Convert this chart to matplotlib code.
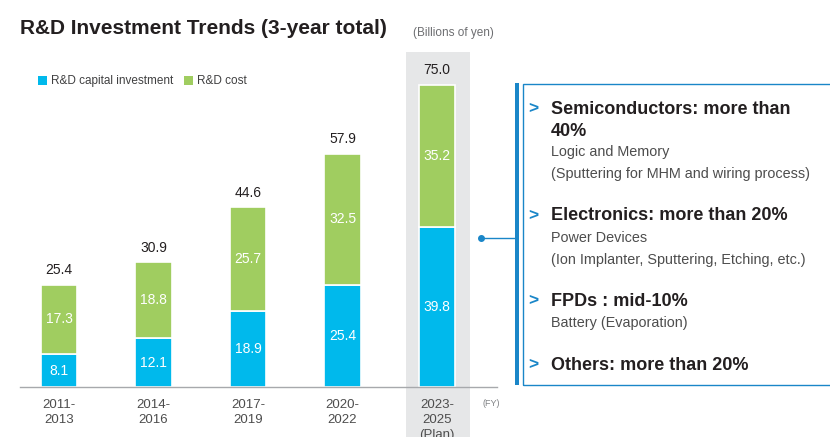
import matplotlib
matplotlib.use("Agg")
import matplotlib.pyplot as plt
from matplotlib.patches import Rectangle
from matplotlib.lines import Line2D

periods = ["2011-\n2013", "2014-\n2016", "2017-\n2019", "2020-\n2022", "2023-\n2025\n(Plan)"]
capital = [8.1, 12.1, 18.9, 25.4, 39.8]
cost = [17.3, 18.8, 25.7, 32.5, 35.2]
totals = [25.4, 30.9, 44.6, 57.9, 75.0]

headings = [["Semiconductors: more than", "40%"], ["Electronics: more than 20%"],
            ["FPDs : mid-10%"], ["Others: more than 20%"]]
details = [["Logic and Memory", "(Sputtering for MHM and wiring process)"],
           ["Power Devices", "(Ion Implanter, Sputtering, Etching, etc.)"],
           ["Battery (Evaporation)"], []]

BLUE = "#00b9ec"
GREEN = "#a0cd60"
DARKBLUE = "#1a86c8"
GREY_BG = "#e6e7e8"
TXT = "#231f20"
SUB = "#4d4d4d"

plt.rcParams['font.family'] = ['Liberation Sans', 'DejaVu Sans']

W, H = 830, 437
fig = plt.figure(figsize=(W / 100, H / 100), dpi=100)
fig.patch.set_facecolor("white")

def fx(px):
    return px / W

def fy(py):
    return 1 - py / H

y_top_val = 85.0
px_per_unit = 4.03
ax_bottom = 387
ax_top = ax_bottom - y_top_val * px_per_unit
ax = fig.add_axes([fx(20), fy(ax_bottom), fx(497 - 20), (ax_bottom - ax_top) / H])
ax.set_xlim(-0.413, 4.635)
ax.set_ylim(0, y_top_val)
ax.axis("off")
ax.patch.set_alpha(0)

x = list(range(len(periods)))
bw = 0.39

ax.add_patch(Rectangle((3.672, -13.0), 0.677, 13.0 + 83.2, facecolor=GREY_BG,
                       edgecolor="none", clip_on=False, zorder=0))

ax.bar(x, capital, width=bw, color=BLUE, edgecolor="white", linewidth=1.2, zorder=2)
ax.bar(x, cost, width=bw, bottom=capital, color=GREEN, edgecolor="white", linewidth=1.2, zorder=2)

ax.plot([-0.413, 4.635], [0, 0], color="#a7a9ac", lw=1.0, clip_on=False, zorder=3)

for i in x:
    ax.text(i, capital[i] / 2, f"{capital[i]:.1f}", ha="center", va="center", color="white", fontsize=10, zorder=4)
    ax.text(i, capital[i] + cost[i] / 2, f"{cost[i]:.1f}", ha="center", va="center", color="white", fontsize=10, zorder=4)
    ax.text(i, totals[i] + 3.6, f"{totals[i]:.1f}", ha="center", va="center", color=TXT, fontsize=10, zorder=4)
    ax.text(i, -3.1, periods[i], ha="center", va="top", color=SUB, fontsize=9.5, linespacing=1.3,
            clip_on=False)

fig.text(fx(482), fy(404), "(FY)", ha="left", va="center", color="#808285", fontsize=6.5)

fig.text(fx(20), fy(28), "R&D Investment Trends (3-year total)", ha="left", va="center",
         fontsize=15, fontweight="bold", color=TXT)
fig.text(fx(413), fy(33), "(Billions of yen)", ha="left", va="center", fontsize=8.5, color="#6d6e71")

fig.patches.append(Rectangle((fx(38), fy(85)), fx(9), 9 / H, facecolor=BLUE, edgecolor="none",
                             transform=fig.transFigure, figure=fig))
fig.text(fx(51), fy(81), "R&D capital investment", ha="left", va="center", fontsize=8.5, color="#404041")
fig.patches.append(Rectangle((fx(184), fy(85)), fx(9), 9 / H, facecolor=GREEN, edgecolor="none",
                             transform=fig.transFigure, figure=fig))
fig.text(fx(197), fy(81), "R&D cost", ha="left", va="center", fontsize=8.5, color="#404041")

fig.patches.append(Rectangle((fx(514.5), fy(385)), fx(4.5), (385 - 83) / H, facecolor=DARKBLUE,
                             edgecolor="none", transform=fig.transFigure, figure=fig))
fig.patches.append(Rectangle((fx(523), fy(384.5)), fx(830 - 523 + 5), (384.5 - 83.5) / H,
                             facecolor="none", edgecolor=DARKBLUE, lw=1.0,
                             transform=fig.transFigure, figure=fig))
fig.lines.append(Line2D([fx(481), fx(515)], [fy(238), fy(238)], color=DARKBLUE, lw=1.0,
                        transform=fig.transFigure, figure=fig))
fig.lines.append(Line2D([fx(481)], [fy(238)], marker="o", markersize=4, color=DARKBLUE,
                        transform=fig.transFigure, figure=fig))

head_y = [[109, 131], [216], [301], [365]]
det_y = [[152, 174], [238, 260], [323], []]
for hys, hs, dys, ds in zip(head_y, headings, det_y, details):
    fig.text(fx(528), fy(hys[0]), ">", ha="left", va="center", fontsize=12.5, fontweight="bold", color=DARKBLUE)
    for yy, t in zip(hys, hs):
        fig.text(fx(551), fy(yy), t, ha="left", va="center", fontsize=13, fontweight="bold", color=TXT)
    for yy, t in zip(dys, ds):
        fig.text(fx(551), fy(yy), t, ha="left", va="center", fontsize=10.4, color=SUB)

fig.savefig("out.png", dpi=100)
